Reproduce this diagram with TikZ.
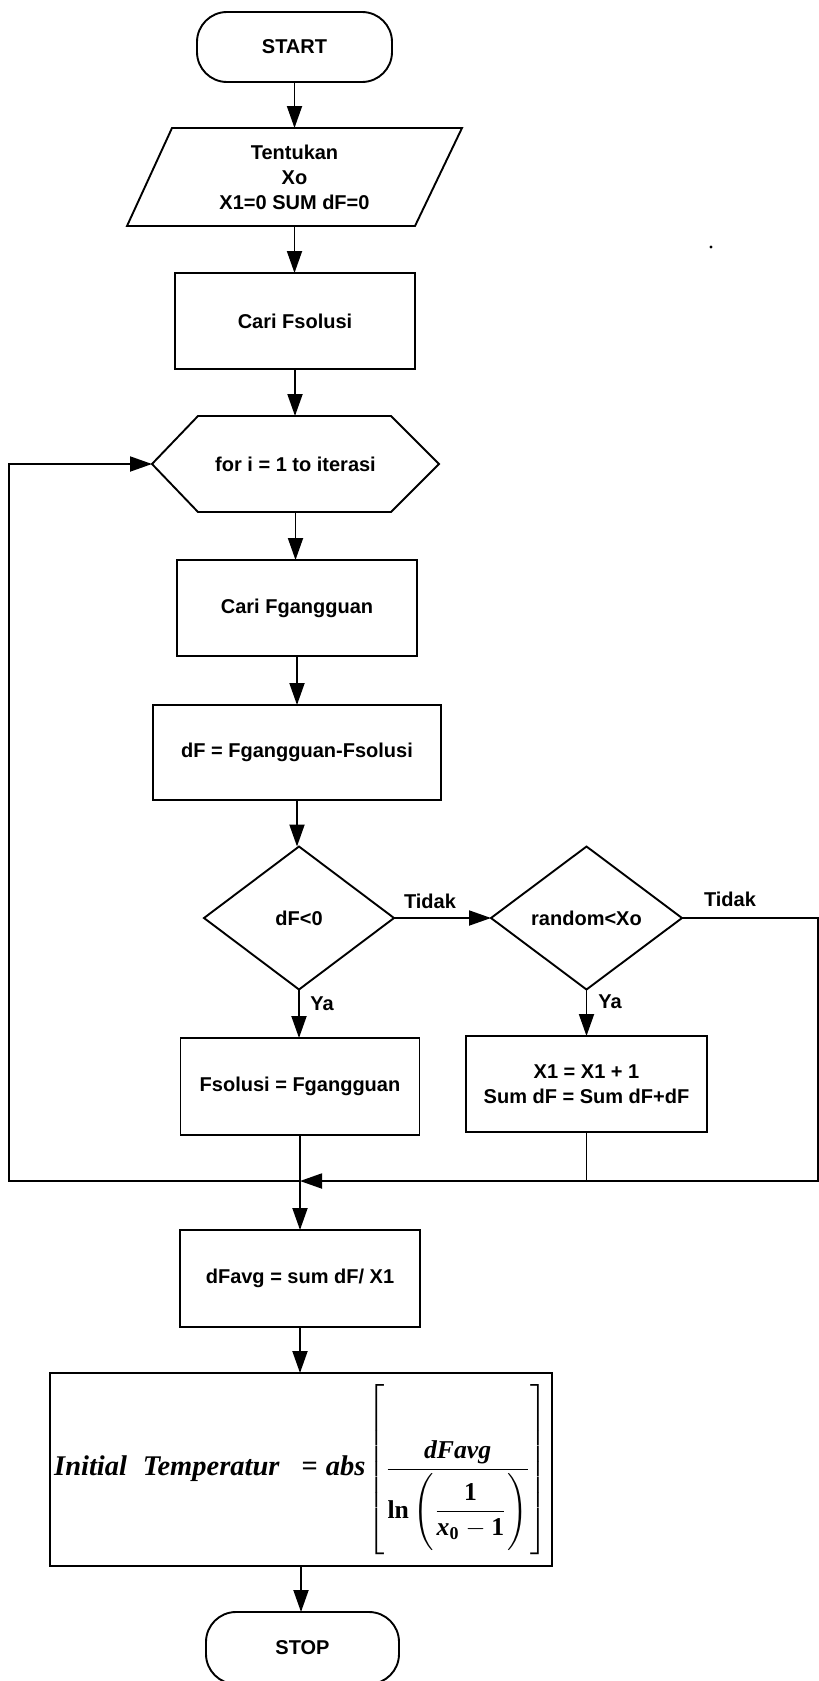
\documentclass[tikz,border=0pt]{standalone}
\usepackage{amsmath}
\usepackage{fontspec}
\usetikzlibrary{arrows.meta}
\newfontfamily\sansfam{Liberation Sans}
\newfontfamily\seriffam{Liberation Serif}
\newcommand\boxfont{\sansfam\bfseries\fontsize{20pt}{25pt}\selectfont}
\newcommand\vari[1]{\text{\seriffam\bfseries\itshape #1}}
\newcommand\upri[1]{\text{\seriffam\bfseries #1}}
\newcommand\vstrut[1]{\vcenter{\hbox{\rule{0pt}{#1}}}}

\begin{document}
\begin{tikzpicture}[x=1pt,y=-1pt,
  base/.style={font=\boxfont, align=center, inner sep=0pt, outer sep=0pt},
  procbox/.style={base, draw, line width=1.9pt, rectangle},
  termbox/.style={procbox, rounded corners=30pt},
  ghost/.style={base, rectangle},
  outline/.style={line width=1.9pt, line join=miter},
  flow/.style={line width=1.9pt, -{Triangle[length=22pt,width=15pt]}},
  plain/.style={line width=1.9pt},
  lbl/.style={font=\boxfont, inner sep=0pt, anchor=base}]
\useasboundingbox (0,0) rectangle (819,1681);

% terminals
\node[termbox, minimum width=195pt, minimum height=70pt] (start) at (294.5,47) {START};
\node[termbox, minimum width=193pt, minimum height=72pt] (stop) at (302.5,1648) {STOP};

% input parallelogram
\node[ghost, minimum width=335pt, minimum height=98pt] (inp) at (294.5,177)
  {Tentukan\\Xo\\X1=0 SUM dF=0};
\draw[outline] (inp.south west) -- ([xshift=45pt]inp.north west) -- (inp.north east)
  -- ([xshift=-47pt]inp.south east) -- cycle;

\node[procbox, minimum width=240pt, minimum height=96pt] (fs) at (295,321) {Cari Fsolusi};

% loop header (hexagon)
\node[ghost, minimum width=287pt, minimum height=96pt] (loop) at (295.5,464) {for i = 1 to iterasi};
\draw[outline] (loop.west) -- ([xshift=46pt]loop.north west) -- ([xshift=-48pt]loop.north east)
  -- (loop.east) -- ([xshift=-48pt]loop.south east) -- ([xshift=46pt]loop.south west) -- cycle;

\node[procbox, minimum width=240pt, minimum height=96pt] (cg) at (297,608) {Cari Fgangguan};
\node[procbox, minimum width=288pt, minimum height=95pt] (dfb) at (297,752.5) {dF = Fgangguan-Fsolusi};

% decisions
\node[ghost, minimum width=190pt, minimum height=143pt] (d1) at (299,918) {dF<0};
\draw[outline] (d1.north) -- (d1.east) -- (d1.south) -- (d1.west) -- cycle;
\node[ghost, minimum width=191pt, minimum height=143pt] (d2) at (586.5,918) {random<Xo};
\draw[outline] (d2.north) -- (d2.east) -- (d2.south) -- (d2.west) -- cycle;

\node[procbox, minimum width=239pt, minimum height=97pt] (fsol) at (300,1086.5) {Fsolusi = Fgangguan};
\node[procbox, minimum width=241pt, minimum height=96pt] (x1b) at (586.5,1084)
  {X1 = X1 + 1\\Sum dF = Sum dF+dF};

\node[procbox, minimum width=240pt, minimum height=97pt] (dfa) at (300,1278.5) {dFavg = sum dF/ X1};

% closing formula, set at 10pt and enlarged
\node[procbox, minimum width=502pt, minimum height=193pt] (ft) at (301,1469.5)
  {\fontsize{10pt}{12pt}\selectfont\delimiterfactor=1000 \delimitershortfall=0pt
   \scalebox{2.85}{$\vari{Initial}\hspace{5.5pt}\vari{Temperatur}\hspace{5pt}\mathrel{\upri{=}}\vari{abs}$}%
   \hspace{2pt}%
   \scalebox{2.57}{$\left[\vstrut{66pt}\dfrac{\vari{dFavg}}
     {\upri{ln}\left(\vstrut{30pt}\dfrac{\upri{1}}{\vari{x}_{\upri{0}}-\upri{1}}\right)}\right]$}};

% branch labels
\node[lbl] (t1) at (430,908) {Tidak};
\node[lbl] (t2) at (730,906) {Tidak};
\node[lbl] (y1) at (322,1010) {Ya};
\node[lbl] (y2) at (610,1008) {Ya};

% routing points of the loop-back lines
\coordinate (jn) at (300,1181);
\coordinate (rtop) at (818,918);
\coordinate (rbot) at (818,1181);
\coordinate (lbot) at (9,1181);
\coordinate (ltop) at (9,464);

% main flow
\draw[flow] (start.south) -- (start.south |- inp.north);
\draw[flow] (inp.south) -- (inp.south |- fs.north);
\draw[flow] (fs.south) -- (fs.south |- loop.north);
\draw[flow] (loop.south) -- (loop.south |- cg.north);
\draw[flow] (cg.south) -- (cg.south |- dfb.north);
\draw[flow] (dfb.south) -- (dfb.south |- d1.north);
\draw[flow] (d1.south) -- (d1.south |- fsol.north);
\draw[flow] (d1.east) -- (d2.west);
\draw[flow] (d2.south) -- (d2.south |- x1b.north);
\draw[flow] (d2.east) -- (rtop) -- (rbot) -- (jn);
\draw[plain] (x1b.south) -- (x1b.south |- jn);
\draw[plain] (fsol.south) -- (jn);
\draw[flow] (jn) -- (dfa.north);
\draw[flow] (jn) -- (lbot) -- (ltop) -- (loop.west);
\draw[flow] (dfa.south) -- (dfa.south |- ft.north);
\draw[flow] (ft.south) -- (ft.south |- stop.north);

\fill (711,247) circle (1.6pt);
\end{tikzpicture}
\end{document}
